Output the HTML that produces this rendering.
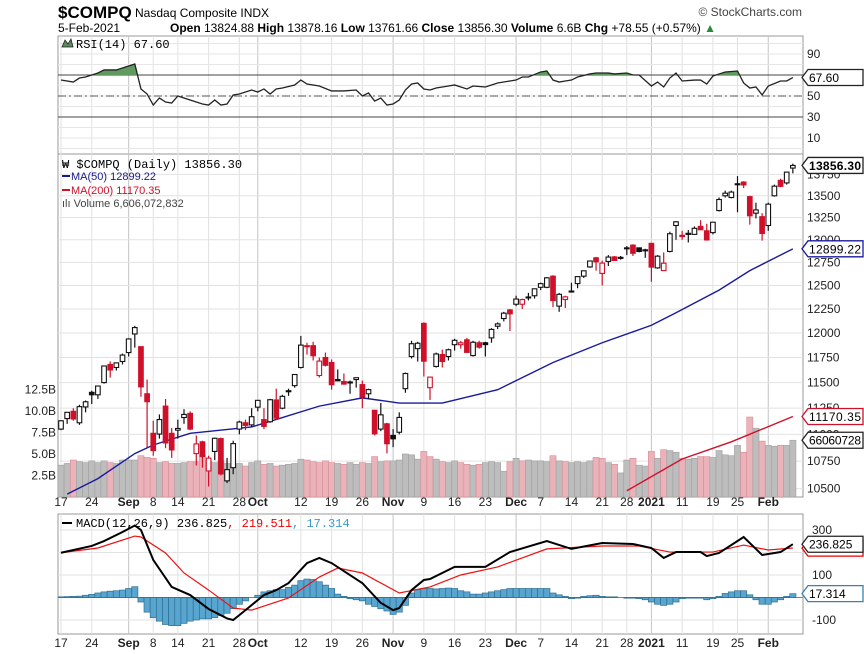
<!DOCTYPE html>
<html><head><meta charset="utf-8"><style>
html,body{margin:0;padding:0;background:#fff;width:864px;height:654px;overflow:hidden}
svg{display:block;font-family:"Liberation Sans",sans-serif}
</style></head><body>
<svg id="chart" width="864" height="654" viewBox="0 0 864 654" xmlns="http://www.w3.org/2000/svg">
<defs>
<clipPath id="cRsi"><rect x="58" y="36" width="745" height="118"/></clipPath>
<clipPath id="cPrice"><rect x="58" y="154" width="745" height="343"/></clipPath>
<clipPath id="cMacd"><rect x="58" y="514" width="745" height="120"/></clipPath>
<clipPath id="cAbove70"><rect x="58" y="36" width="745" height="39"/></clipPath>
</defs>
<g>
<text x="58" y="18" font-size="17" font-weight="bold" fill="#000">$COMPQ</text>
<text x="135" y="17" font-size="12" fill="#000">Nasdaq Composite INDX</text>
<text x="58" y="32" font-size="12" fill="#000">5-Feb-2021<tspan x="170" font-weight="bold">Open</tspan> 13824.88 <tspan font-weight="bold">High</tspan> 13878.16 <tspan font-weight="bold">Low</tspan> 13761.66 <tspan font-weight="bold">Close</tspan> 13856.30 <tspan font-weight="bold">Volume</tspan> 6.6B <tspan font-weight="bold">Chg</tspan> +78.55 (+0.57%) <tspan fill="#2a8a3a">▲</tspan></text>
<text x="802" y="16" font-size="12" fill="#444" text-anchor="end">© StockCharts.com</text>
</g>
<rect x="58" y="36" width="745" height="118" fill="#fff" stroke="#999"/>
<rect x="58" y="154" width="745" height="343" fill="#fff" stroke="#999"/>
<rect x="58" y="514" width="745" height="120" fill="#fff" stroke="#999"/>
<g id="grid"></g>
<g id="rsi" clip-path="url(#cRsi)"></g>
<g id="price" clip-path="url(#cPrice)"></g>
<g id="macd" clip-path="url(#cMacd)"></g>
<g id="axes"></g>
<g>
<path d="M62 47 L65 40 L68 44 L71 39 L73 47 Z" fill="#5a8a5a" stroke="#222" stroke-width="0.8"/>
<text x="76" y="48" font-size="12" fill="#000" font-family="Liberation Mono, monospace">RSI(14) 67.60</text>
</g>
<g>
<text x="62" y="168" font-size="12" fill="#000" font-family="Liberation Mono, monospace">₩ $COMPQ (Daily) 13856.30</text>
<line x1="62" y1="176" x2="70" y2="176" stroke="#1a1a8c" stroke-width="2"/>
<text x="71" y="180" font-size="11" fill="#1a1a8c">MA(50) 12899.22</text>
<line x1="62" y1="190" x2="70" y2="190" stroke="#d0102a" stroke-width="2"/>
<text x="71" y="194" font-size="11" fill="#d0102a">MA(200) 11170.35</text>
<text x="62" y="207" font-size="11" fill="#444">ılı Volume 6,606,072,832</text>
</g>
<g>
<line x1="62" y1="523" x2="72" y2="523" stroke="#000" stroke-width="2"/>
<text x="76" y="527" font-size="12" fill="#000" font-family="Liberation Mono, monospace">MACD(12,26,9) 236.825<tspan fill="#e00">, 219.511</tspan><tspan fill="#3a9ad0">, 17.314</tspan></text>
</g>
</svg>
<script>
const opens=[11050,11150,11220,11110,11262,11404,11380,11500,11680,11650,11710,11800,11990,11860,11390,11010,11003,11270,11010,11040,11160,11200,10820,10930,10660,10840,10960,10570,10690,11050,11110,11090,11260,11140,11120,11330,11250,11410,11470,11650,11870,11870,11570,11750,11700,11530,11510,11500,11530,11480,11390,11230,11050,11100,10990,11020,11440,11760,11840,12100,11450,11660,11780,11760,11880,11880,11930,11770,11900,11900,11950,12070,12150,12240,12300,12300,12370,12390,12480,12480,12600,12280,12350,12440,12520,12600,12700,12800,12630,12760,12810,12800,12910,12940,12910,12880,12960,12690,12660,12870,13160,13050,13060,13060,13150,13100,13080,13330,13500,13480,13640,13660,13490,13300,13260,13160,13500,13680,13650,13825];
const highs=[11135,11212,11250,11283,11325,11420,11470,11670,11710,11700,11790,11945,12074,11860,11530,11130,11190,11340,11060,11140,11240,11220,10990,10940,10800,10970,10970,10780,10940,11130,11140,11250,11330,11250,11340,11440,11380,11440,11580,11970,11900,11910,11750,11800,11730,11630,11590,11520,11550,11520,11440,11230,11300,11110,11050,11210,11600,11920,11910,12110,11560,11800,11830,11840,11940,11920,11950,11920,11920,11910,12050,12110,12220,12250,12390,12360,12420,12465,12530,12590,12610,12420,12390,12530,12600,12660,12770,12810,12770,12830,12820,12820,12930,12950,12910,12900,12960,12830,12860,13090,13210,13100,13110,13150,13220,13180,13200,13480,13560,13560,13730,13670,13500,13420,13300,13420,13630,13700,13780,13878];
const lows=[11040,11100,11130,11090,11210,11290,11340,11490,11550,11620,11680,11760,11850,11361,10876,10800,10960,10870,10780,10960,11100,11040,10710,10690,10519,10760,10620,10550,10630,11000,11040,11070,11220,11050,11110,11140,11240,11370,11450,11640,11780,11720,11550,11660,11430,11520,11480,11390,11450,11250,11340,10990,11030,10822,10880,11000,11400,11740,11710,11560,11330,11650,11650,11720,11820,11840,11800,11760,11840,11760,11900,12040,12120,12020,12280,12250,12340,12360,12450,12470,12270,12220,12260,12430,12470,12580,12690,12660,12500,12710,12770,12780,12830,12820,12860,12800,12540,12680,12660,12860,13000,13000,12970,13060,13110,12990,13060,13320,13480,13470,13310,13590,13170,13240,12990,13100,13490,13600,13630,13762];
const closes=[11129,11210,11146,11265,11312,11380,11466,11665,11625,11696,11775,11939,12056,11458,11313,10848,11141,10919,10854,11056,11190,11050,10910,10793,10778,10963,10633,10672,10913,11117,11085,11168,11326,11076,11332,11154,11365,11420,11580,11876,11864,11768,11714,11672,11479,11517,11485,11506,11548,11358,11431,11005,11186,10912,10958,11161,11590,11890,11895,11713,11554,11786,11710,11829,11925,11900,11802,11905,11855,11881,12037,12094,12206,12199,12355,12349,12377,12464,12519,12582,12339,12405,12378,12440,12595,12658,12765,12756,12742,12808,12771,12805,12899,12850,12870,12888,12698,12818,12741,13067,13202,13036,13072,13128,13112,12998,13197,13457,13530,13543,13635,13626,13270,13337,13070,13403,13612,13610,13777,13856];
const volumesB=[3.7,3.9,4.3,4.1,4.0,4.2,4.0,4.2,4.0,3.9,4.3,4.3,4.3,4.8,4.6,4.5,4.0,4.1,3.9,3.9,4.0,4.1,4.1,4.9,4.2,4.0,4.2,3.9,3.6,3.9,3.6,4.0,4.2,3.8,3.9,3.6,3.7,3.8,3.9,4.4,4.3,4.1,4.0,4.2,4.0,3.9,3.8,4.0,3.8,4.0,3.9,4.7,4.1,4.2,4.2,4.3,5.0,4.9,4.4,5.3,4.7,4.4,4.1,4.0,4.2,4.0,3.8,3.7,3.8,4.0,4.1,4.0,3.0,4.1,4.5,4.2,4.3,4.2,4.2,4.1,4.8,4.2,4.1,4.0,4.1,4.0,4.2,4.6,4.5,4.0,3.8,2.8,4.3,4.5,3.7,3.6,5.3,4.5,5.5,5.4,5.2,4.5,4.4,4.5,4.7,4.7,4.6,5.4,4.9,4.8,6.0,5.2,9.3,8.0,6.5,6.0,5.9,6.0,6.0,6.6];
const ma50Day=[1,6,12,15,21,31,36,42,49,55,62,71,80,88,96,100,107,112,119];
const ma50Val=[10450,10590,10820,10900,11010,11070,11160,11270,11350,11300,11300,11430,11700,11900,12080,12210,12450,12660,12899];
const ma200Day=[92,101,109,119];
const ma200Val=[10480,10770,10930,11170];
const rsiDay=[0,2,3,4,6,7,9,11,12,13,14,15,16,17,18,19,21,23,24,25,26,27,28,29,31,32,33,34,35,36,38,39,40,42,44,46,48,49,50,51,52,53,54,55,56,57,58,59,60,61,63,64,66,67,69,71,73,74,75,76,78,79,80,81,82,83,84,86,87,89,90,92,93,94,96,97,98,99,100,101,103,104,105,106,108,110,111,112,113,114,115,117,118,119];
const rsiVal=[65.2,63.3,67.1,68.1,71.9,74.8,74.8,78.6,80.5,56.7,51.9,41.4,48.1,44.3,43.3,50,46.2,42.4,41.4,46.2,41.4,42.4,51,51.9,55.7,53.8,56.7,51.9,56.7,57.6,60.5,65.2,61.4,59.5,54.8,54.8,55.7,50,52.9,45.2,48.1,41.4,42.4,46.2,55.7,61.4,62.4,56.7,55.7,57.6,59.5,60.5,56.7,59.5,58.6,62.4,64.3,65.2,68.1,68.1,72.9,73.8,65.2,63.3,64.3,65.2,68.1,71,71.9,71.9,71,71.9,70,70,59.5,63.3,58.6,67.1,71.9,64.3,65.2,65.2,61.4,69,72.9,73.8,62.4,57.6,58.6,51,59.5,64.3,64.3,67.6];
const macdDay=[0,5,7,10,12,13,15,18,21,24,27,28,30,33,35,37,40,42,44,49,52,54,55,57,59,60,64,69,73,79,83,88,93,96,98,100,104,105,107,111,114,117,119];
const macdVal=[199,229,251,291,320,300,167,47,11,-51,-93,-100,-56,11,33,64,153,176,153,64,-24,-56,-47,33,78,82,136,136,202,251,216,242,238,220,176,202,202,184,198,269,189,202,237];
const sigDay=[0,6,12,13,17,20,24,28,31,37,42,45,49,55,60,65,71,79,88,94,99,106,111,115,119];
const sigVal=[199,220,273,269,198,109,33,-47,-56,-2,91,131,109,20,47,100,136,216,229,229,202,202,233,211,220];
const histVal=[3,4,5,6,10,14,20,25,28,30,33,40,48,-20,-65,-90,-105,-120,-125,-125,-115,-105,-100,-95,-95,-90,-80,-70,-50,-30,-15,0,10,25,30,35,35,45,55,75,82,80,70,55,40,15,5,-5,-10,-15,-30,-40,-50,-60,-75,-65,-35,20,35,40,40,38,40,42,40,30,25,15,15,20,25,30,35,40,40,40,40,40,40,40,20,12,5,-5,-3,5,8,10,5,3,3,0,-3,-3,-5,-10,-20,-30,-35,-30,-20,-5,-3,-3,-3,-10,-5,5,18,25,30,30,12,-10,-30,-30,-20,-10,5,17];
const priceTicks=[13750,13500,13250,13000,12750,12500,12250,12000,11750,11500,11250,11000,10750,10500];
const volTicks=[2.5,5,7.5,10,12.5];
const volTickLabels=["2.5B","5.0B","7.5B","10.0B","12.5B"];
const rsiTicks=[90,50,30,10];
const macdTicks=[300,100,-100];
const dateIdx=[0,5,11,15,19,24,29,32,39,44,49,54,59,64,69,74,78,83,88,92,96,101,106,110,115];
const dateLbl=["17","24","Sep","8","14","21","28","Oct","12","19","26","Nov","9","16","23","Dec","7","14","21","28","2021","11","19","25","Feb"];
const dateMajor=[0,0,1,0,0,0,0,1,0,0,0,1,0,0,0,1,0,0,0,0,1,0,0,0,1];

const NS="http://www.w3.org/2000/svg";
function mk(tag,attrs,parent){const e=document.createElementNS(NS,tag);for(const k in attrs)e.setAttribute(k,attrs[k]);parent.appendChild(e);return e;}
const X=i=>61+i*6.15;
const PY=p=>333-1165*Math.log(p/12000);
const VY=v=>497-v*8.6;
const RY=v=>96-(v-50)*1.05;
const MY=v=>597.5-v*0.225;
const grid=document.getElementById('grid'),axes=document.getElementById('axes');
const rsiG=document.getElementById('rsi'),priceG=document.getElementById('price'),macdG=document.getElementById('macd');

dateIdx.forEach((d,k)=>{
  [[36,154],[154,497],[514,634]].forEach(([a,b])=>{
    const l=mk('line',{x1:X(d),x2:X(d),y1:a,y2:b,stroke:dateMajor[k]?'#c4c4c4':'#e2e2e2','stroke-width':1},grid);
    
    
  });
  [506,647].forEach(yy=>{
    const t=mk('text',{x:X(d),y:yy,'font-size':12,'text-anchor':'middle',fill:'#222','font-weight':dateMajor[k]?'bold':'normal'},axes);
    t.textContent=dateLbl[k];
    
    
  });
});
for(let v=0;v<=100;v+=10){mk('line',{x1:58,x2:803,y1:RY(v),y2:RY(v),stroke:'#e6e6e6'},grid);}
[70,30].forEach(v=>mk('line',{x1:58,x2:803,y1:RY(v),y2:RY(v),stroke:'#444'},grid));
mk('line',{x1:58,x2:803,y1:RY(50),y2:RY(50),stroke:'#555','stroke-dasharray':'8,3,2,3'},grid);
rsiTicks.forEach(v=>{const t=mk('text',{x:807,y:RY(v)+4,'font-size':12,fill:'#222'},axes);t.textContent=v;
  
  });
priceTicks.forEach(p=>{mk('line',{x1:58,x2:803,y1:PY(p),y2:PY(p),stroke:'#e2e2e2'},grid);
  const t=mk('text',{x:807,y:PY(p)+4,'font-size':12,fill:'#222'},axes);t.textContent=p;
  
  });
volTicks.forEach((v,k)=>{const t=mk('text',{x:56,y:VY(v)+4,'font-size':12,fill:'#222','text-anchor':'end'},axes);t.textContent=volTickLabels[k];
  
  });
[300,200,100,0,-100].forEach(v=>mk('line',{x1:58,x2:803,y1:MY(v),y2:MY(v),stroke:'#e2e2e2'},grid));
macdTicks.forEach(v=>{const t=mk('text',{x:812,y:MY(v)+4,'font-size':12,fill:'#222'},axes);t.textContent=v;
  
  });

const rpts=rsiDay.map((d,k)=>X(d)+','+RY(rsiVal[k])).join(' ');
const rfill=mk('polygon',{points:X(rsiDay[0])+','+RY(70)+' '+rpts+' '+X(rsiDay[rsiDay.length-1])+','+RY(70),fill:'#5f9a5f','clip-path':'url(#cAbove70)'},rsiG);


const rl=mk('polyline',{points:rpts,fill:'none',stroke:'#222','stroke-width':1.3},rsiG);



closes.forEach((c,i)=>{
  const down=i>0&&c<closes[i-1];
  const b=mk('rect',{x:X(i)-3.07,y:VY(volumesB[i]),width:6.15,height:497-VY(volumesB[i]),fill:down?'#eab3ba':'#bdbdbd',stroke:down?'#d98a95':'#a0a0a0','stroke-width':0.6},priceG);
  
  
});
const m50=mk('polyline',{points:ma50Day.map((d,k)=>X(d)+','+PY(ma50Val[k])).join(' '),fill:'none',stroke:'#1a1a9c','stroke-width':1.4},priceG);


const m200=mk('polyline',{points:ma200Day.map((d,k)=>X(d)+','+PY(ma200Val[k])).join(' '),fill:'none',stroke:'#d0102a','stroke-width':1.4},priceG);


closes.forEach((c,i)=>{
  const o=opens[i],down=i>0&&c<closes[i-1];
  const col=down?'#d0102a':'#111';
  const w=mk('line',{x1:X(i),x2:X(i),y1:PY(highs[i]),y2:PY(lows[i]),stroke:col,'stroke-width':1.2},priceG);
  
  
  const top=PY(Math.max(o,c)),bot=PY(Math.min(o,c));
  const r=mk('rect',{x:X(i)-2.3,y:top,width:4.6,height:Math.max(1,bot-top),fill:c<o?col:'#fff',stroke:col,'stroke-width':1.1},priceG);
  
  
});

histVal.forEach((h,i)=>{
  const y0=MY(0),y1=MY(h);
  const b=mk('rect',{x:X(i)-3.07,y:Math.min(y0,y1),width:6.15,height:Math.abs(y1-y0),fill:'#58a6d0',stroke:'#2f6f93','stroke-width':0.7},macdG);
  
  
});
mk('line',{x1:58,x2:803,y1:MY(0),y2:MY(0),stroke:'#2f6f93','stroke-width':0.8},macdG);
const sl=mk('polyline',{points:sigDay.map((d,k)=>X(d)+','+MY(sigVal[k])).join(' '),fill:'none',stroke:'#f01010','stroke-width':1.2},macdG);


const ml=mk('polyline',{points:macdDay.map((d,k)=>X(d)+','+MY(macdVal[k])).join(' '),fill:'none',stroke:'#000','stroke-width':2},macdG);



function callout(y,txt,col,name){
  const g=mk('g',{},axes);
  
  
  mk('path',{d:`M802 ${y} L808 ${y-8} L863 ${y-8} L863 ${y+8} L808 ${y+8} Z`,fill:'#fff',stroke:col,'stroke-width':1.3},g);
  const t=mk('text',{x:809,y:y+4.5,'font-size':12,fill:'#000','font-weight':name==='last-price-callout'?'bold':'normal',textLength:txt.length>7?52:0},g);
  if(txt.length<=7)t.removeAttribute('textLength');
  t.textContent=txt;
}
callout(RY(67.6),'67.60','#222','rsi-value-callout');
callout(PY(13856.3),'13856.30','#222','last-price-callout');
callout(PY(12899.22),'12899.22','#1a1a9c','ma50-value-callout');
callout(PY(11170.35),'11170.35','#d0102a','ma200-value-callout');
callout(VY(6.6),'66060728','#222','volume-value-callout');
callout(MY(219.5),'219.511','#e00','signal-value-callout');
callout(MY(236.8),'236.825','#222','macd-value-callout');
callout(MY(17.3),'17.314','#3a80b0','histogram-value-callout');
</script>
</body></html>
